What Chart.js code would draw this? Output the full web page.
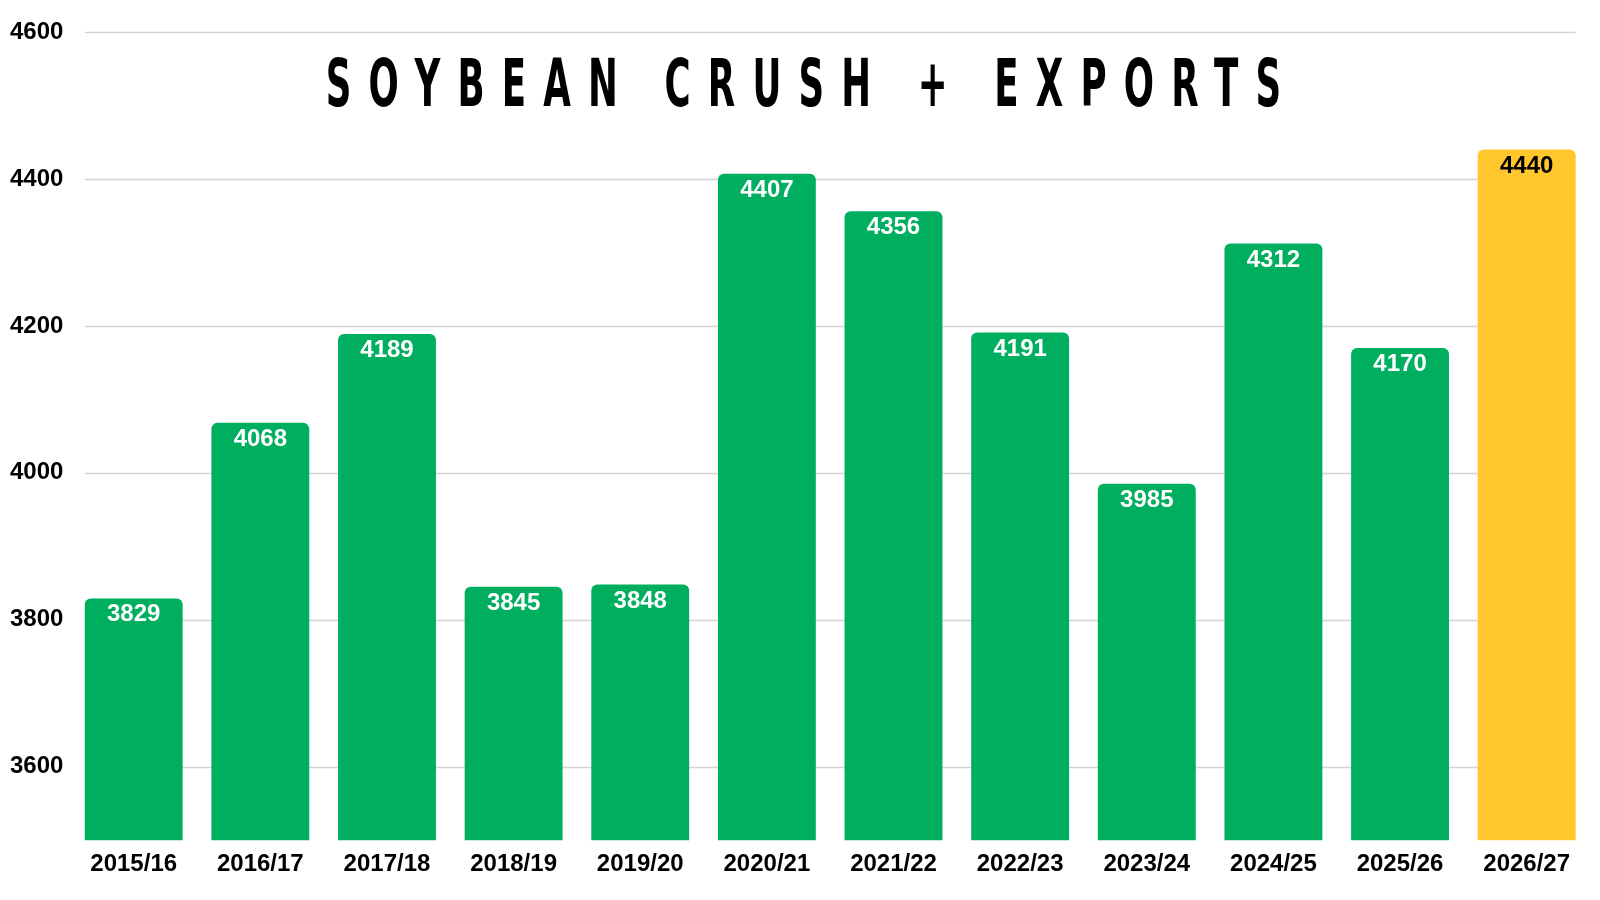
<!DOCTYPE html>
<html>
<head>
<meta charset="utf-8">
<title>Soybean Crush + Exports</title>
<script src="https://cdn.jsdelivr.net/npm/chart.js@4.4.1/dist/chart.umd.min.js"></script>
<style>
  html, body { margin: 0; padding: 0; background: #fff; }
  #wrap { position: relative; width: 1600px; height: 900px; overflow: hidden; }
  #title {
    position: absolute;
    top: 51px;
    left: 803px;
    font-family: "Liberation Sans Narrow", "DejaVu Sans Condensed", "Liberation Sans", sans-serif;
    font-weight: bold;
    font-size: 66px;
    line-height: 66px;
    white-space: nowrap;
    color: #000;
    transform-origin: center top;
    transform: translateX(-50%) scaleX(0.6);
  }
</style>
</head>
<body>
<div id="wrap">
  <canvas id="chart" width="1600" height="900"></canvas>
  <div id="title">SOYBEAN CRUSH + EXPORTS</div>
</div>
<script>
// chart data
const categories = ["2015/16", "2016/17", "2017/18", "2018/19", "2019/20", "2020/21",
  "2021/22", "2022/23", "2023/24", "2024/25", "2025/26", "2026/27"];
const values = [3829, 4068, 4189, 3845, 3848, 4407, 4356, 4191, 3985, 4312, 4170, 4440];
const yTicks = [3600, 3800, 4000, 4200, 4400, 4600];

const GREEN = "#00ae60";
const YELLOW = "#ffc72c";
const barColors = values.map((v, i) => (i === values.length - 1 ? YELLOW : GREEN));
const labelColors = values.map((v, i) => (i === values.length - 1 ? "#000" : "#fff"));

const FONT = '"Liberation Sans", Arial, sans-serif';

// stretch the title letters out to the width of the original
function fitTitle() {
  const el = document.getElementById("title");
  const scale = 0.6;
  const target = 955;
  const n = el.textContent.length;
  el.style.letterSpacing = "0px";
  const w0 = el.offsetWidth;
  const spacing = (target / scale - w0) / (n - 1);
  el.style.letterSpacing = spacing + "px";
  el.style.marginLeft = (spacing * scale / 2) + "px";
}
fitTitle();

// gridlines only span from first bar to last bar
const gridPlugin = {
  id: "barGrid",
  beforeDatasetsDraw(chart) {
    const ctx = chart.ctx;
    const bars = chart.getDatasetMeta(0).data;
    if (!bars.length) return;
    const first = bars[0];
    const last = bars[bars.length - 1];
    const x0 = first.x - first.width / 2;
    const x1 = last.x + last.width / 2;
    const y = chart.scales.y;
    ctx.save();
    ctx.strokeStyle = "#d4d4d4";
    ctx.lineWidth = 1.5;
    yTicks.forEach(t => {
      const py = Math.round(y.getPixelForValue(t)) + 0.5;
      ctx.beginPath();
      ctx.moveTo(x0, py);
      ctx.lineTo(x1, py);
      ctx.stroke();
    });
    ctx.restore();
  }
};

// value labels inside the top of each bar
const valueLabels = {
  id: "valueLabels",
  afterDatasetsDraw(chart) {
    const ctx = chart.ctx;
    const bars = chart.getDatasetMeta(0).data;
    ctx.save();
    ctx.font = "bold 24px " + FONT;
    ctx.textAlign = "center";
    ctx.textBaseline = "alphabetic";
    bars.forEach((bar, i) => {
      ctx.fillStyle = labelColors[i];
      ctx.fillText(String(values[i]), bar.x, bar.y + 23);
    });
    ctx.restore();
  }
};

const ctx = document.getElementById("chart").getContext("2d");
const myChart = new Chart(ctx, {
  type: "bar",
  data: {
    labels: categories,
    datasets: [
      {
        label: "Crush + Exports",
        data: values,
        backgroundColor: barColors,
        borderRadius: 6,
        borderSkipped: "start",
        categoryPercentage: 1,
        barPercentage: 0.773,
      },
    ],
  },
  options: {
    responsive: false,
    animation: false,
    layout: {
      padding: { left: 3, right: 10, top: 32, bottom: 11 },
    },
    plugins: {
      legend: { display: false },
      tooltip: { enabled: false },
      title: { display: false },
    },
    scales: {
      x: {
        grid: { display: false, drawTicks: false },
        border: { display: false },
        ticks: {
          color: "#000",
          padding: 10,
          font: { family: FONT, size: 24, weight: "bold" },
        },
      },
      y: {
        min: 3500,
        max: 4600,
        afterBuildTicks: (scale) => {
          scale.ticks = yTicks.map(v => ({ value: v }));
        },
        grid: { display: false, drawTicks: false },
        border: { display: false },
        ticks: {
          color: "#000",
          padding: 7,
          font: { family: FONT, size: 24, weight: "bold" },
          callback: (v) => String(v),
        },
      },
    },
  },
  plugins: [gridPlugin, valueLabels],
});
</script>
</body>
</html>
